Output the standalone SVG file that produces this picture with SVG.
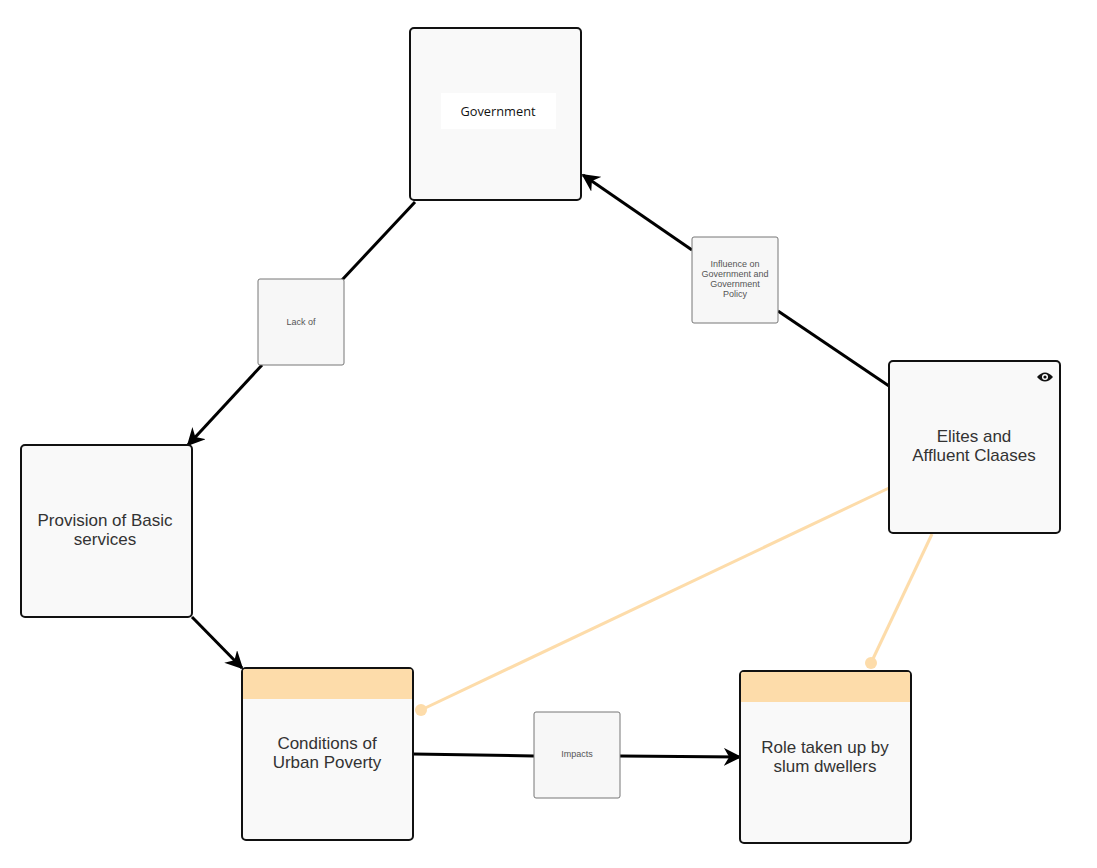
<svg xmlns="http://www.w3.org/2000/svg" width="1097" height="868" viewBox="0 0 1097 868">
<style>
.node{fill:#f9f9f9;stroke:#111;stroke-width:2}
.lbl{fill:#f7f7f7;stroke:#777;stroke-width:1}
.hdr{fill:#fddcaa}
.t{font-family:"Liberation Sans",Arial,sans-serif;font-size:17px;fill:#333;text-anchor:middle}
.s{font-family:"Liberation Sans",Arial,sans-serif;font-size:9px;fill:#555;text-anchor:middle}
.g{font-family:"Open Sans","DejaVu Sans",sans-serif;font-size:12.8px;fill:#111;text-anchor:middle}
.c{fill:none;stroke:#000;stroke-width:3}
.o{fill:none;stroke:#fddcaa;stroke-width:3}
</style>
<defs>
<marker id="arr" viewBox="0 0 10 10" refX="9" refY="5" markerWidth="6" markerHeight="6" markerUnits="strokeWidth" orient="auto">
<path d="M0,0 L10,5 L0,10 L3,5 Z" fill="#000"/>
</marker>
</defs>
<rect width="1097" height="868" fill="#fff"/>
<g id="connectors">
<line class="c" x1="415" y1="202" x2="342" y2="280"/>
<line class="c" x1="262" y1="365" x2="188" y2="445" marker-end="url(#arr)"/>
<line class="c" x1="889" y1="386" x2="778" y2="311"/>
<line class="c" x1="692" y1="250" x2="583" y2="175" marker-end="url(#arr)"/>
<line class="c" x1="192" y1="617" x2="242" y2="668" marker-end="url(#arr)"/>
<line class="c" x1="413" y1="754" x2="534" y2="756"/>
<line class="c" x1="620" y1="756" x2="740" y2="757" marker-end="url(#arr)"/>
<line class="o" x1="889" y1="488" x2="421" y2="710"/>
<circle cx="421" cy="710" r="6" fill="#fddcaa"/>
<line class="o" x1="932" y1="534" x2="871" y2="663"/>
<circle cx="871" cy="663" r="6" fill="#fddcaa"/>
</g>
<g id="government">
<rect class="node" x="410" y="28" width="171" height="172" rx="4"/>
<rect x="441" y="93" width="115" height="36" fill="#fff"/>
<text class="g" x="498" y="116">Government</text>
</g>
<g id="elites">
<rect class="node" x="889" y="361" width="171" height="172" rx="4"/>
<path d="M1037,377 Q1045,368 1053,377 Q1045,386 1037,377 Z" fill="#111"/>
<circle cx="1045" cy="377" r="3" fill="#fff"/>
<circle cx="1045" cy="377" r="1.6" fill="#111"/>
<text class="t" x="974" y="442">Elites and</text>
<text class="t" x="974" y="461">Affluent Claases</text>
</g>
<g id="provision">
<rect class="node" x="21" y="445" width="171" height="172" rx="4"/>
<text class="t" x="105" y="526">Provision of Basic</text>
<text class="t" x="105" y="545">services</text>
</g>
<g id="conditions">
<rect class="node" x="242" y="668" width="171" height="172" rx="4"/>
<path class="hdr" d="M245,669 H410 Q412,669 412,671 V699 H243 V671 Q243,669 245,669 Z"/>
<text class="t" x="327" y="749">Conditions of</text>
<text class="t" x="327" y="768">Urban Poverty</text>
</g>
<g id="role">
<rect class="node" x="740" y="671" width="171" height="172" rx="4"/>
<path class="hdr" d="M743,672 H908 Q910,672 910,674 V702 H741 V674 Q741,672 743,672 Z"/>
<text class="t" x="825" y="753">Role taken up by</text>
<text class="t" x="825" y="772">slum dwellers</text>
</g>
<g id="lbl-lackof">
<rect class="lbl" x="258" y="279" width="86" height="86" rx="2"/>
<text class="s" x="301" y="325">Lack of</text>
</g>
<g id="lbl-influence">
<rect class="lbl" x="692" y="237" width="86" height="86" rx="2"/>
<text class="s" x="735" y="267">Influence on</text>
<text class="s" x="735" y="277">Government and</text>
<text class="s" x="735" y="287">Government</text>
<text class="s" x="735" y="297">Policy</text>
</g>
<g id="lbl-impacts">
<rect class="lbl" x="534" y="712" width="86" height="86" rx="2"/>
<text class="s" x="577" y="757">Impacts</text>
</g>
</svg>
